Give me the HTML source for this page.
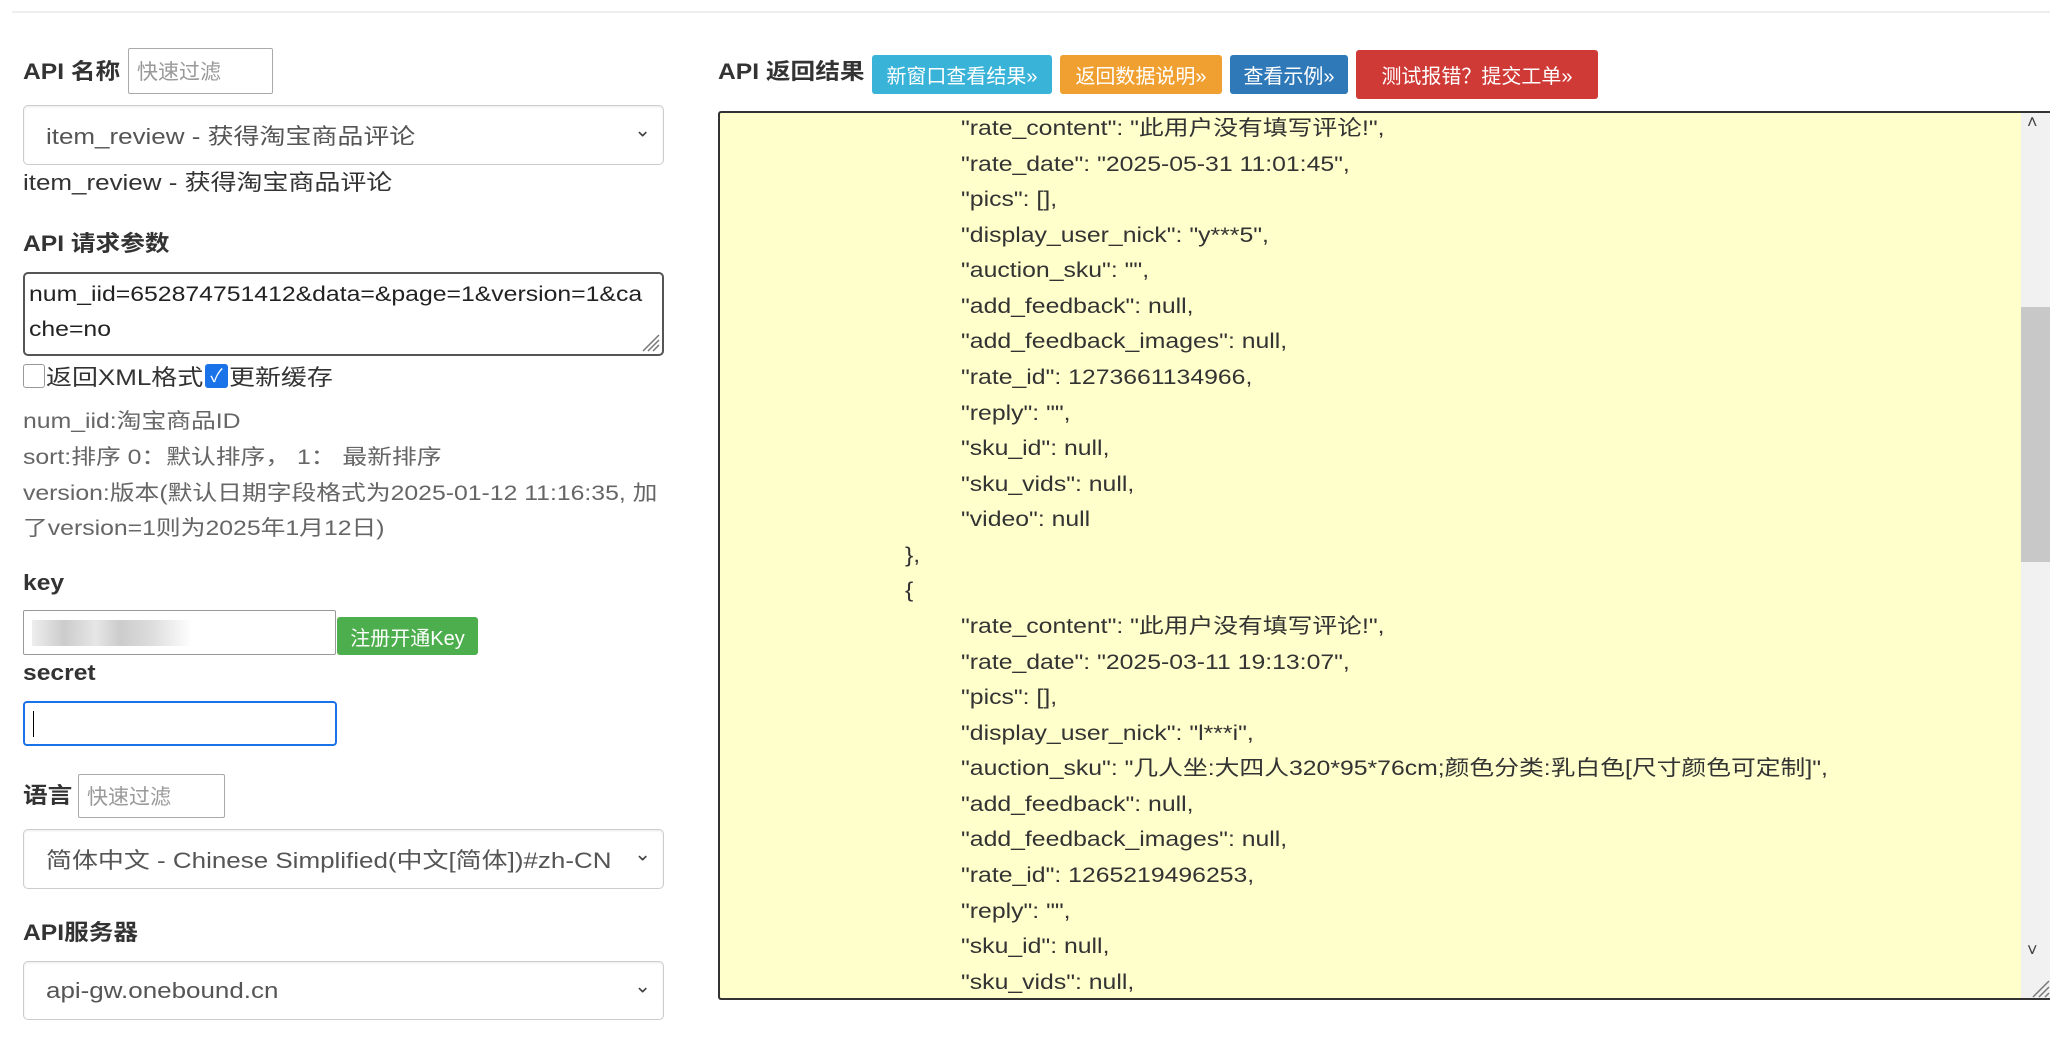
<!DOCTYPE html>
<html><head><meta charset="utf-8"><style>
*{box-sizing:border-box;margin:0;padding:0}
body{width:2050px;height:1040px;background:#fff;position:relative;overflow:hidden;font-family:"Liberation Sans","Noto Sans CJK SC",sans-serif;color:#333}
.a{position:absolute;white-space:nowrap}
.w{transform:scaleX(1.18);transform-origin:0 50%}
.ws{display:inline-block;transform:scaleX(1.18);transform-origin:0 50%}
.lb{font-weight:bold;font-size:22px;line-height:30px;transform:scaleX(1.12);transform-origin:0 50%}
.inp{position:absolute;border:1px solid #aaa;border-radius:2px;background:#fff;font-size:21px;color:#999;padding-left:8px;display:flex;align-items:center}
.sel{position:absolute;left:23px;width:641px;border:1px solid #ccc;border-radius:5px;background:#fff;box-shadow:inset 0 1px 2px rgba(0,0,0,.08);font-size:22px;color:#555;padding-left:22px;display:flex;align-items:center;white-space:nowrap}
.sel:after{content:"⌄";position:absolute;right:12px;top:50%;transform:translateY(-70%);font-size:20px;color:#444}
.desc{font-size:21px;color:#666;line-height:30px}
.btn{position:absolute;color:#fff;font-size:20px;display:flex;align-items:center;justify-content:center;border-radius:3px;white-space:nowrap}
.code{position:absolute;left:718px;top:111px;width:1332px;height:889px;background:#ffffcc;border:2px solid #333;border-right:none;border-radius:3px 0 0 3px;overflow:hidden}
.code div{position:absolute;font-size:21px;line-height:30px;white-space:nowrap;color:#333;transform:scaleX(1.18);transform-origin:0 50%}
</style></head><body>
<div class="a" style="left:12px;top:11px;width:2038px;height:2px;background:#eee"></div>

<div class="a lb" style="left:23px;top:57px">API 名称</div>
<div class="inp" style="left:128px;top:48px;width:145px;height:46px">快速过滤</div>
<div class="sel" style="top:105px;height:60px"><span class="ws">item_review - 获得淘宝商品评论</span></div>
<div class="a w" style="left:23px;top:168px;font-size:22px;line-height:30px">item_review - 获得淘宝商品评论</div>

<div class="a lb" style="left:23px;top:229px">API 请求参数</div>
<div class="a" style="left:23px;top:272px;width:641px;height:84px;border:2px solid #555;border-radius:5px;background:#fff;color:#222">
<div class="a w" style="left:4px;top:6px;font-size:21px;line-height:30px">num_iid=652874751412&amp;data=&amp;page=1&amp;version=1&amp;ca</div>
<div class="a w" style="left:4px;top:41px;font-size:21px;line-height:30px">che=no</div>
<svg style="position:absolute;right:2px;bottom:2px" width="22" height="22"><path d="M21 5L5 21M21 10L10 21M21 15L15 21" stroke="#777" stroke-width="1.5"/></svg></div>
<div class="a" style="left:23px;top:364px;width:22px;height:24px;border:1px solid #999;border-radius:3px;background:#fff"></div>
<div class="a w" style="left:46px;top:363px;font-size:22px;line-height:30px">返回XML格式</div>
<div class="a" style="left:205px;top:364px;width:23px;height:24px;background:#1a73e8;border-radius:3px;color:#fff;font-size:18px;text-align:center;line-height:24px">✓</div>
<div class="a w" style="left:229px;top:363px;font-size:22px;line-height:30px">更新缓存</div>

<div class="a desc w" style="left:23px;top:407px">num_iid:淘宝商品ID</div>
<div class="a desc w" style="left:23px;top:443px">sort:排序 0：默认排序， 1： 最新排序</div>
<div class="a desc w" style="left:23px;top:479px">version:版本(默认日期字段格式为2025-01-12 11:16:35, 加</div>
<div class="a desc w" style="left:23px;top:514px">了version=1则为2025年1月12日)</div>

<div class="a lb" style="left:23px;top:568px">key</div>
<div class="inp" style="left:23px;top:610px;width:313px;height:45px;border-color:#999"><div style="width:160px;height:26px;background:linear-gradient(90deg,#eee,#ccc 20%,#e6e6e6 40%,#ccc 55%,#ddd 75%,#fff)"></div></div>
<div class="btn" style="left:337px;top:617px;width:141px;height:38px;background:#4cae4c;font-size:20px">注册开通Key</div>
<div class="a lb" style="left:23px;top:658px">secret</div>
<div class="inp" style="left:23px;top:701px;width:314px;height:45px;border:2px solid #1a73e8;border-radius:4px"><div style="width:1px;height:26px;background:#000"></div></div>

<div class="a lb" style="left:23px;top:781px">语言</div>
<div class="inp" style="left:78px;top:774px;width:147px;height:44px">快速过滤</div>
<div class="sel" style="top:829px;height:60px"><span class="ws">简体中文 - Chinese Simplified(中文[简体])#zh-CN</span></div>

<div class="a lb" style="left:23px;top:918px">API服务器</div>
<div class="sel" style="top:961px;height:59px"><span class="ws">api-gw.onebound.cn</span></div>

<div class="a lb" style="left:718px;top:57px">API 返回结果</div>
<div class="btn" style="left:872px;top:55px;width:180px;height:39px;background:#39b3d7">新窗口查看结果»</div>
<div class="btn" style="left:1060px;top:55px;width:162px;height:39px;background:#f0a030">返回数据说明»</div>
<div class="btn" style="left:1230px;top:55px;width:118px;height:39px;background:#2f79b9">查看示例»</div>
<div class="btn" style="left:1356px;top:50px;width:242px;height:49px;background:#d03a36">测试报错？提交工单»</div>

<div class="code">
<div style="left:241px;top:1px">"rate_content": "此用户没有填写评论!",</div>
<div style="left:241px;top:37px">"rate_date": "2025-05-31 11:01:45",</div>
<div style="left:241px;top:72px">"pics": [],</div>
<div style="left:241px;top:108px">"display_user_nick": "y***5",</div>
<div style="left:241px;top:143px">"auction_sku": "",</div>
<div style="left:241px;top:179px">"add_feedback": null,</div>
<div style="left:241px;top:214px">"add_feedback_images": null,</div>
<div style="left:241px;top:250px">"rate_id": 1273661134966,</div>
<div style="left:241px;top:286px">"reply": "",</div>
<div style="left:241px;top:321px">"sku_id": null,</div>
<div style="left:241px;top:357px">"sku_vids": null,</div>
<div style="left:241px;top:392px">"video": null</div>
<div style="left:185px;top:428px">},</div>
<div style="left:185px;top:463px">{</div>
<div style="left:241px;top:499px">"rate_content": "此用户没有填写评论!",</div>
<div style="left:241px;top:535px">"rate_date": "2025-03-11 19:13:07",</div>
<div style="left:241px;top:570px">"pics": [],</div>
<div style="left:241px;top:606px">"display_user_nick": "l***i",</div>
<div style="left:241px;top:641px">"auction_sku": "几人坐:大四人320*95*76cm;颜色分类:乳白色[尺寸颜色可定制]",</div>
<div style="left:241px;top:677px">"add_feedback": null,</div>
<div style="left:241px;top:712px">"add_feedback_images": null,</div>
<div style="left:241px;top:748px">"rate_id": 1265219496253,</div>
<div style="left:241px;top:784px">"reply": "",</div>
<div style="left:241px;top:819px">"sku_id": null,</div>
<div style="left:241px;top:855px">"sku_vids": null,</div>
</div>
<div class="a" style="left:2021px;top:113px;width:29px;height:885px;background:#f1f1f1"></div>
<div class="a" style="left:2021px;top:307px;width:29px;height:255px;background:#c8c8c8"></div>
<div class="a" style="left:2027px;top:112px;font-size:18px;color:#444">˄</div>
<div class="a" style="left:2027px;top:940px;font-size:18px;color:#444">˅</div>
<svg class="a" style="left:2028px;top:976px" width="22" height="22"><path d="M21 5L5 21M21 11L11 21M21 17L17 21" stroke="#777" stroke-width="1.5"/></svg>
</body></html>
